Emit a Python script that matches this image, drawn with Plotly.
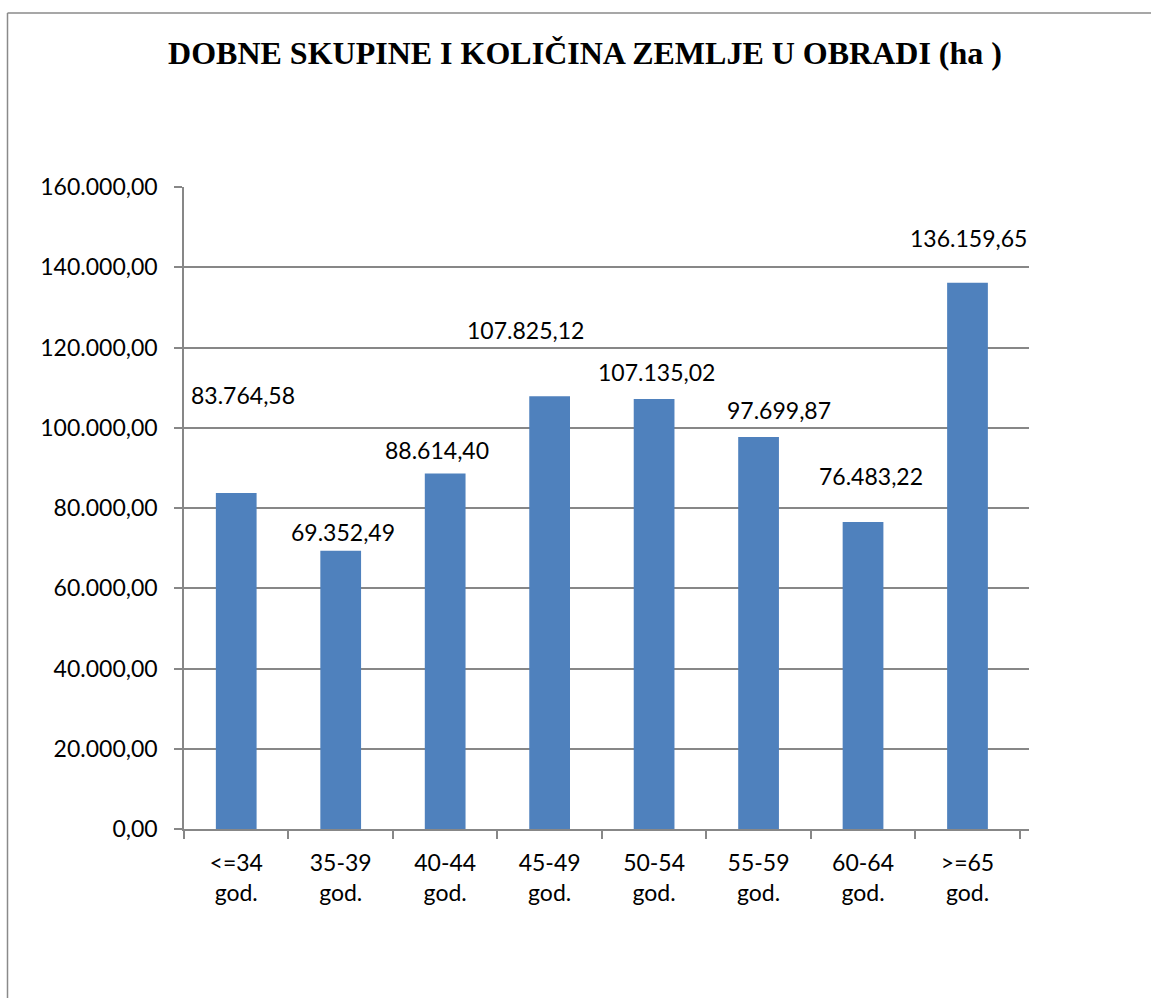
import plotly.graph_objects as go

categories = ["<=34 god.", "35-39 god.", "40-44 god.", "45-49 god.", "50-54 god.", "55-59 god.", "60-64 god.", ">=65 god."]
tick_labels = ["&lt;=34<br>god.", "35-39<br>god.", "40-44<br>god.", "45-49<br>god.", "50-54<br>god.", "55-59<br>god.", "60-64<br>god.", "&gt;=65<br>god."]
values = [83764.58, 69352.49, 88614.40, 107825.12, 107135.02, 97699.87, 76483.22, 136159.65]
value_labels = ["83.764,58", "69.352,49", "88.614,40", "107.825,12", "107.135,02", "97.699,87", "76.483,22", "136.159,65"]
# label offsets (pixels) relative to bar tops, as placed in the original
label_xshift = [7, 2.5, -8.5, -24.5, 2, 20.5, 8, 1]
label_yshift = [98, 19, 23, 66, 27, 27, 46, 45]

W, H = 1151, 998
ml, mr, mt, mb = 184, 122, 187, 169
pw, ph = W - ml - mr, H - mt - mb

fig = go.Figure(go.Bar(x=categories, y=values, marker=dict(color="#4F81BD", line=dict(width=0)), width=0.39))

grid = "#878787"
fig.update_layout(
    width=W, height=H,
    margin=dict(l=ml, r=mr, t=mt, b=mb),
    paper_bgcolor="white", plot_bgcolor="white",
    separators=",.",
    showlegend=False,
    font=dict(family="Lato", size=23, color="black"),
    title=dict(text="<b>DOBNE SKUPINE I KOLIČINA ZEMLJE U OBRADI (ha )</b>",
               font=dict(family="Liberation Serif", size=32, color="black"),
               x=585 / W, xanchor="center", y=1 - 53 / H, yanchor="middle"),
)
fig.update_xaxes(
    tickvals=categories, ticktext=tick_labels,
    showline=True, linecolor=grid, linewidth=1.5,
    ticks="outside", tickson="boundaries", ticklen=8, tickcolor=grid, tickwidth=1.5,
    showgrid=False, tickfont=dict(family="Lato", size=23, color="black"),
    ticklabelstandoff=13,
)
fig.update_yaxes(
    range=[0, 160000], dtick=20000, tick0=0, tickformat=",.2f",
    showline=True, linecolor=grid, linewidth=1.5,
    ticks="outside", ticklen=8, tickcolor=grid, tickwidth=1.5,
    showgrid=True, gridcolor=grid, gridwidth=1.5, zeroline=False,
    tickfont=dict(family="Lato", size=23, color="black"),
    ticklabelstandoff=12,
)

for c, v, t, dx, dy in zip(categories, values, value_labels, label_xshift, label_yshift):
    fig.add_annotation(x=c, y=v, text=t, showarrow=False, xshift=dx, yshift=dy,
                       xanchor="center", yanchor="middle",
                       font=dict(family="Lato", size=23, color="black"))

# outer chart frame (top and left edges visible)
x_left = (7.5 - ml) / pw
x_right = (W - ml) / pw
y_top = (H - mb - 13) / ph
y_bot = (H - mb - H) / ph
fig.add_shape(type="line", xref="paper", yref="paper", x0=x_left, x1=x_right, y0=y_top, y1=y_top,
              line=dict(color="#8a8a8a", width=1.5))
fig.add_shape(type="line", xref="paper", yref="paper", x0=x_left, x1=x_left, y0=y_top, y1=y_bot,
              line=dict(color="#8a8a8a", width=1.5))

fig.write_html("out.html", config={"displayModeBar": False},
               post_script="document.body.style.margin='0';")
